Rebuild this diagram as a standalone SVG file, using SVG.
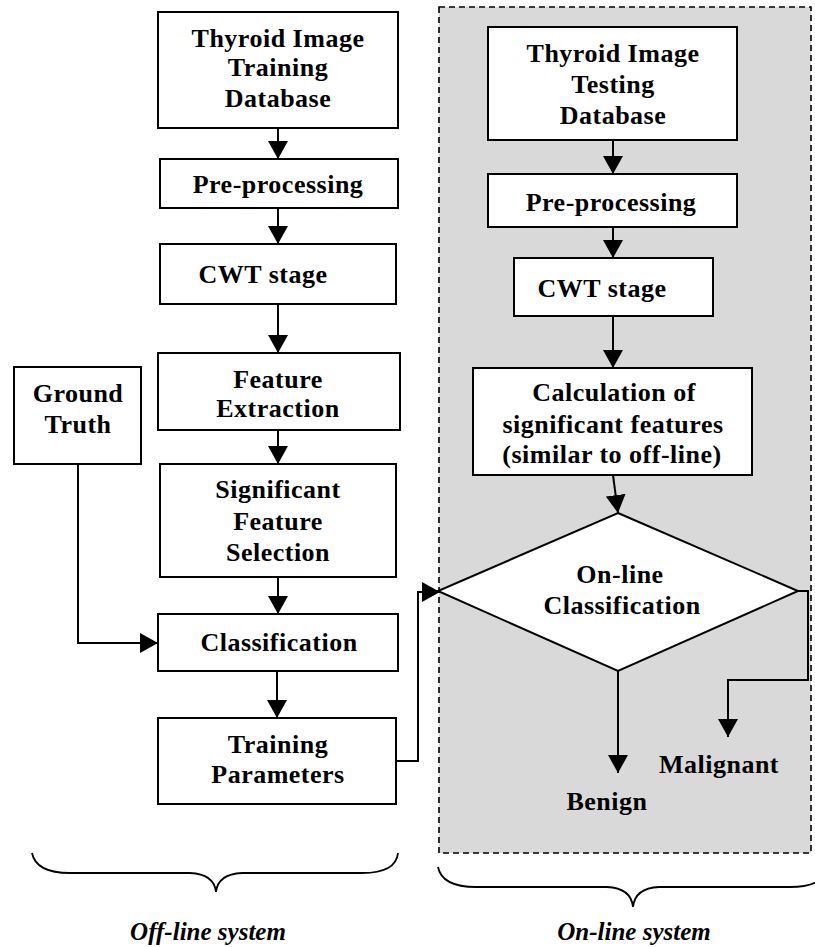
<svg xmlns="http://www.w3.org/2000/svg" width="815" height="947" viewBox="0 0 815 947">
<defs>
<style>
.box{fill:#fff;stroke:#000;stroke-width:2}
.t{font-weight:bold;font-size:26px;letter-spacing:0.5px;fill:#000;text-anchor:middle}
.it{font-weight:bold;font-style:italic;font-size:25px;fill:#000;text-anchor:middle}
.c{fill:none;stroke:#000;stroke-width:2}
.brace{fill:none;stroke:#000;stroke-width:1.8}
</style>
<marker id="ah" markerUnits="userSpaceOnUse" markerWidth="18" markerHeight="20" refX="18" refY="10" orient="auto">
<path d="M0,0 L18,10 L0,20 z" fill="#000"/>
</marker>
</defs>
<rect width="815" height="947" fill="#fff"/>
<g id="online-panel">
<rect x="439" y="7" width="372" height="846" fill="#d9d9d9" stroke="#000" stroke-width="1.6" stroke-dasharray="6,4"/>
</g>
<g font-family="Liberation Serif, Times New Roman, serif">
<g id="train-db"><rect class="box" x="158" y="12" width="240" height="116"/>
<text class="t" x="278" y="47">Thyroid Image</text><text class="t" x="278" y="76">Training</text><text class="t" x="278" y="107">Database</text></g>
<g id="train-pre"><rect class="box" x="160" y="159" width="238" height="49"/><text class="t" x="278" y="193">Pre-processing</text></g>
<g id="train-cwt"><rect class="box" x="160" y="244" width="236" height="60"/><text class="t" x="263" y="283">CWT stage</text></g>
<g id="feat-ext"><rect class="box" x="158" y="353" width="242" height="77"/><text class="t" x="278" y="388">Feature</text><text class="t" x="278" y="417">Extraction</text></g>
<g id="ground-truth"><rect class="box" x="14" y="367" width="127" height="97"/><text class="t" x="78" y="402">Ground</text><text class="t" x="78" y="433">Truth</text></g>
<g id="sig-feat"><rect class="box" x="160" y="464" width="236" height="113"/><text class="t" x="278" y="498">Significant</text><text class="t" x="278" y="530">Feature</text><text class="t" x="278" y="561">Selection</text></g>
<g id="classification"><rect class="box" x="158" y="614" width="240" height="57"/><text class="t" x="279" y="651">Classification</text></g>
<g id="train-params"><rect class="box" x="158" y="718" width="238" height="86"/><text class="t" x="278" y="753">Training</text><text class="t" x="278" y="783">Parameters</text></g>
<g id="test-db"><rect class="box" x="488" y="27" width="249" height="113"/><text class="t" x="613" y="62">Thyroid Image</text><text class="t" x="613" y="93">Testing</text><text class="t" x="613" y="124">Database</text></g>
<g id="test-pre"><rect class="box" x="488" y="174" width="249" height="53"/><text class="t" x="611" y="211">Pre-processing</text></g>
<g id="test-cwt"><rect class="box" x="514" y="258" width="199" height="58"/><text class="t" x="602" y="297">CWT stage</text></g>
<g id="calc"><rect class="box" x="473" y="368" width="279" height="107"/><text class="t" x="614" y="401">Calculation of</text><text class="t" x="613" y="433">significant features</text><text class="t" x="612" y="463">(similar to off-line)</text></g>
<g id="online-class"><path class="box" d="M618,513 L798,591 L618,671 L438,591 Z"/><text class="t" x="620" y="583">On-line</text><text class="t" x="622" y="614">Classification</text></g>
<g id="benign"><text class="t" x="607" y="810">Benign</text></g>
<g id="malignant"><text class="t" x="719" y="773">Malignant</text></g>
<g id="offline-brace">
<path class="brace" d="M32,853 Q36,873 70,873 L190,873 Q214,874 216,892 Q218,874 242,873 L362,873 Q396,873 398,853"/>
<text class="it" x="208" y="940">Off-line system</text>
</g>
<g id="online-brace">
<path class="brace" d="M438,867 Q442,887 476,887 L607,887 Q631,888 633,907 Q635,888 659,887 L790,887 Q824,887 828,867"/>
<text class="it" x="634" y="940">On-line system</text>
</g>
</g>
<g id="connectors">
<line class="c" x1="278" y1="128" x2="278" y2="159" marker-end="url(#ah)"/>
<line class="c" x1="278" y1="208" x2="278" y2="244" marker-end="url(#ah)"/>
<line class="c" x1="278" y1="304" x2="278" y2="353" marker-end="url(#ah)"/>
<line class="c" x1="278" y1="430" x2="278" y2="464" marker-end="url(#ah)"/>
<line class="c" x1="278" y1="577" x2="278" y2="614" marker-end="url(#ah)"/>
<line class="c" x1="277" y1="671" x2="277" y2="718" marker-end="url(#ah)"/>
<polyline class="c" points="78,464 78,643 158,643" marker-end="url(#ah)"/>
<polyline class="c" points="396,761 418,761 418,592 440,592" marker-end="url(#ah)"/>
<line class="c" x1="613" y1="140" x2="613" y2="174" marker-end="url(#ah)"/>
<line class="c" x1="613" y1="227" x2="613" y2="258" marker-end="url(#ah)"/>
<line class="c" x1="613" y1="316" x2="613" y2="368" marker-end="url(#ah)"/>
<line class="c" x1="613" y1="475" x2="618" y2="513" marker-end="url(#ah)"/>
<line class="c" x1="618" y1="671" x2="618" y2="773" marker-end="url(#ah)"/>
<polyline class="c" points="798,591 808,591 808,680 728,680 728,737" marker-end="url(#ah)"/>
</g>
</svg>
